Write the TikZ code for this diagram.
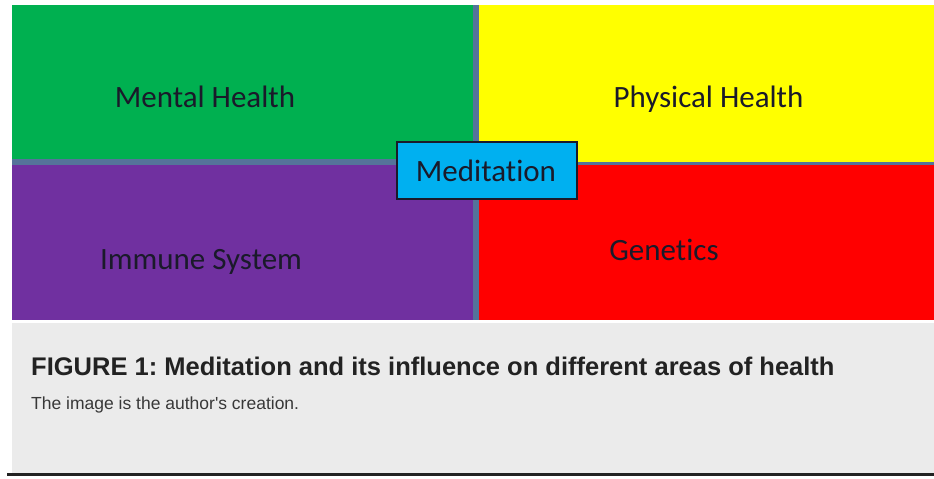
\documentclass[tikz,border=0pt]{standalone}
\usepackage{fontspec}
\setmainfont{Carlito}[Ligatures=NoCommon]
\newfontfamily\capfont{Liberation Sans}
\frenchspacing
\definecolor{qgreen}{HTML}{00B050}
\definecolor{qyellow}{HTML}{FFFF00}
\definecolor{qpurple}{HTML}{7030A0}
\definecolor{qred}{HTML}{FF0000}
\definecolor{qcyan}{HTML}{00B0F0}
\definecolor{qsplit}{HTML}{55739A}
\definecolor{capgray}{HTML}{EBEBEB}
\definecolor{capline}{HTML}{222222}
\definecolor{qtext}{HTML}{1A1A2A}

\begin{document}
\begin{tikzpicture}[x=1pt, y=-1pt,
    area/.style={font=\fontsize{31}{36}\selectfont, text=qtext, inner sep=0pt, anchor=base}]
    \useasboundingbox[fill=white] (0,0) rectangle (934,479);

    % quadrants
    \fill[qsplit] (12,5) rectangle (934,320);
    \fill[qgreen] (12,5) rectangle (473,159);
    \fill[qyellow] (479,5) rectangle (934,162);
    \fill[qpurple] (12,165) rectangle (473,320);
    \fill[qred] (479,165) rectangle (934,320);

    \node[area] (mental) at (205,107.5) {Mental Health};
    \node[area] (physical) at (708.5,107.5) {Physical Health};
    \node[area] (immune) at (201,269) {Immune System};
    \node[area] (genetics) at (664,260) {Genetics};

    \draw[qtext, line width=1.5pt, fill=qcyan] (397,142) rectangle (577,199);
    \node[area] (med) at (486,181) {Meditation};

    % caption
    \fill[capgray] (12,323) rectangle (934,473);
    \draw[capline, line width=3pt] (7,474.5) -- (934,474.5);
    \node[anchor=base west, inner sep=0pt, font=\capfont\bfseries\fontsize{25.5}{30}\selectfont, text=capline] (title) at (31,375) {FIGURE 1: Meditation and its influence on different areas of health};
    \node[anchor=base west, inner sep=0pt, font=\capfont\fontsize{17.5}{21}\selectfont, text=capline!90] (credit) at (31,409.5) {The image is the author's creation.};
\end{tikzpicture}
\end{document}
